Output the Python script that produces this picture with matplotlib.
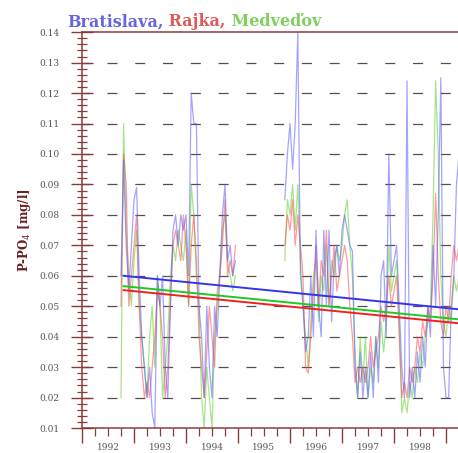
import numpy as np
import matplotlib.pyplot as plt
from matplotlib.ticker import MultipleLocator, FixedLocator, NullFormatter

plt.rcParams['lines.scale_dashes'] = False

# sampling grids (decimal years), two measuring campaigns
start1, start2, dt = 1992.75, 1995.90, 0.05

bratislava1 = [0.06, 0.098, 0.07, 0.055, 0.07, 0.085, 0.089, 0.06, 0.04, 0.03,
               0.02, 0.03, 0.015, 0.01, 0.06, 0.05, 0.06, 0.03, 0.02, 0.05,
               0.075, 0.08, 0.07, 0.08, 0.075, 0.08, 0.06, 0.12, 0.11, 0.11,
               0.05, 0.04, 0.02, 0.05, 0.03, 0.02, 0.05, 0.04, 0.06, 0.08,
               0.09, 0.065, 0.07, 0.06, 0.065]
rajka1 = [0.05, 0.10, 0.09, 0.05, 0.06, 0.07, 0.08, 0.05, 0.03, 0.02,
          0.025, 0.02, 0.03, 0.04, 0.055, 0.05, 0.04, 0.02, 0.03, 0.05,
          0.07, 0.075, 0.07, 0.065, 0.08, 0.07, 0.05, 0.07, 0.08, 0.065,
          0.04, 0.03, 0.02, 0.035, 0.05, 0.04, 0.03, 0.055, 0.06, 0.07,
          0.085, 0.06, 0.065, 0.06, 0.07]
medvedov1 = [0.02, 0.11, 0.075, 0.06, 0.05, 0.065, 0.075, 0.05, 0.04, 0.03,
             0.02, 0.04, 0.05, 0.03, 0.06, 0.05, 0.02, 0.03, 0.04, 0.06,
             0.07, 0.065, 0.075, 0.07, 0.065, 0.075, 0.05, 0.09, 0.08, 0.06,
             0.05, 0.02, 0.01, 0.03, 0.02, 0.01, 0.04, 0.05, 0.06, 0.075,
             0.08, 0.065, 0.06, 0.055, 0.06]

bratislava2 = [0.085, 0.10, 0.11, 0.095, 0.11, 0.14, 0.06, 0.05, 0.035, 0.04,
               0.06, 0.04, 0.075, 0.05, 0.04, 0.075, 0.05, 0.075, 0.045, 0.065,
               0.07, 0.06, 0.075, 0.08, 0.075, 0.07, 0.068, 0.03, 0.02, 0.035,
               0.02, 0.03, 0.02, 0.035, 0.02, 0.04, 0.025, 0.06, 0.065, 0.04,
               0.10, 0.06, 0.065, 0.07, 0.05, 0.03, 0.02, 0.124, 0.02, 0.03,
               0.02, 0.035, 0.025, 0.04, 0.03, 0.05, 0.04, 0.07, 0.05, 0.08,
               0.125, 0.03, 0.02, 0.02, 0.05, 0.06, 0.09, 0.10]
rajka2 = [0.07, 0.08, 0.075, 0.085, 0.07, 0.08, 0.07, 0.06, 0.03, 0.028,
          0.04, 0.055, 0.07, 0.05, 0.065, 0.06, 0.075, 0.05, 0.06, 0.07,
          0.055, 0.06, 0.065, 0.07, 0.065, 0.05, 0.04, 0.025, 0.03, 0.025,
          0.03, 0.025, 0.03, 0.04, 0.03, 0.035, 0.04, 0.05, 0.045, 0.05,
          0.06, 0.05, 0.055, 0.06, 0.04, 0.02, 0.025, 0.02, 0.03, 0.025,
          0.03, 0.04, 0.035, 0.045, 0.04, 0.05, 0.045, 0.06, 0.087, 0.06,
          0.045, 0.04, 0.05, 0.045, 0.06, 0.07, 0.065, 0.07]
medvedov2 = [0.065, 0.085, 0.08, 0.09, 0.075, 0.09, 0.065, 0.05, 0.04, 0.03,
             0.045, 0.06, 0.065, 0.045, 0.06, 0.055, 0.07, 0.05, 0.065, 0.06,
             0.07, 0.065, 0.07, 0.08, 0.085, 0.07, 0.06, 0.035, 0.02, 0.04,
             0.025, 0.04, 0.02, 0.03, 0.025, 0.04, 0.03, 0.045, 0.035, 0.045,
             0.07, 0.055, 0.06, 0.065, 0.045, 0.015, 0.02, 0.015, 0.025, 0.02,
             0.03, 0.025, 0.035, 0.03, 0.04, 0.045, 0.05, 0.08, 0.124, 0.10,
             0.06, 0.045, 0.04, 0.05, 0.045, 0.06, 0.055, 0.06]

# linear trends (value at both ends)
trend_years = [1992.8, 1999.25]
trend_bratislava = [0.0600, 0.0490]
trend_rajka = [0.0553, 0.0444]
trend_medvedov = [0.0566, 0.0457]

t1 = start1 + dt * np.arange(len(bratislava1))
t2 = start2 + dt * np.arange(len(bratislava2))

fig = plt.figure(figsize=(4.58, 4.53), dpi=100)
ax = fig.add_axes([0.179, 0.055, 0.821, 0.874])

brown = '#8b3a3a'
c_b, c_r, c_g = '#5a5aff', '#ff4a4a', '#5ccf2c'

for t, vals, c in [(t1, medvedov1, c_g), (t1, rajka1, c_r), (t1, bratislava1, c_b),
                   (t2, medvedov2, c_g), (t2, rajka2, c_r), (t2, bratislava2, c_b)]:
    ax.plot(t, vals, color=c, lw=0.9, alpha=0.55)

ax.plot(trend_years, trend_bratislava, color='#3434ee', lw=1.4)
ax.plot(trend_years, trend_medvedov, color='#22c822', lw=1.4)
ax.plot(trend_years, trend_rajka, color='#ee2222', lw=1.4)

for v in np.arange(0.02, 0.135, 0.01):
    ax.axhline(v, color='#5a4c4c', lw=0.9, linestyle=(2, (7.2, 12.8)), zorder=0)

ax.set_xlim(1992, 1999.23)
ax.set_ylim(0.01, 0.14)

ax.yaxis.set_major_locator(MultipleLocator(0.01))
ax.yaxis.set_minor_locator(MultipleLocator(0.002))
ax.yaxis.set_major_formatter(plt.FuncFormatter(lambda v, p: '%.2f' % v))
ax.xaxis.set_major_locator(MultipleLocator(1))
ax.xaxis.set_major_formatter(NullFormatter())
ax.xaxis.set_minor_locator(FixedLocator(np.arange(1992.25, 1999.3, 0.25)))

tick_font = dict(family='DejaVu Serif', size=6.5, color='#555555')
for lab in ax.get_yticklabels():
    lab.set(**tick_font)
ax.tick_params(axis='y', which='major', direction='inout', length=16, width=1.0,
               color=brown, pad=8)
ax.tick_params(axis='y', which='minor', direction='inout', length=7, width=0.9,
               color=brown)
ax.tick_params(axis='x', which='major', direction='out', length=11, width=1.0,
               color=brown)
ax.tick_params(axis='x', which='minor', direction='out', length=6, width=0.9,
               color=brown)

for yr in range(1992, 1999):
    ax.text(yr + 0.5, -0.05, str(yr), transform=ax.get_xaxis_transform(),
            ha='center', va='center', **tick_font)

for s in ['left', 'bottom', 'top']:
    ax.spines[s].set_color(brown)
    ax.spines[s].set_linewidth(1.1)
ax.spines['right'].set_visible(False)

ax.set_ylabel('P-PO$_4$ [mg/l]', family='DejaVu Serif', fontweight='bold',
              fontsize=8.5, color='#6b2020', labelpad=5)

t_font = dict(family='DejaVu Serif', fontweight='bold', fontsize=11.5)
t_a = fig.text(0.146, 0.942, 'Bratislava,', color='#6666e0', va='baseline', **t_font)
t_b = ax.annotate(' Rajka,', xy=(1, 0), xycoords=t_a, va='bottom',
                  color='#e05a5a', annotation_clip=False, **t_font)
t_c = ax.annotate(' Medveďov', xy=(1, 0), xycoords=t_b, va='bottom',
                  color='#80d060', annotation_clip=False, **t_font)

fig.savefig('out.png', dpi=100)
